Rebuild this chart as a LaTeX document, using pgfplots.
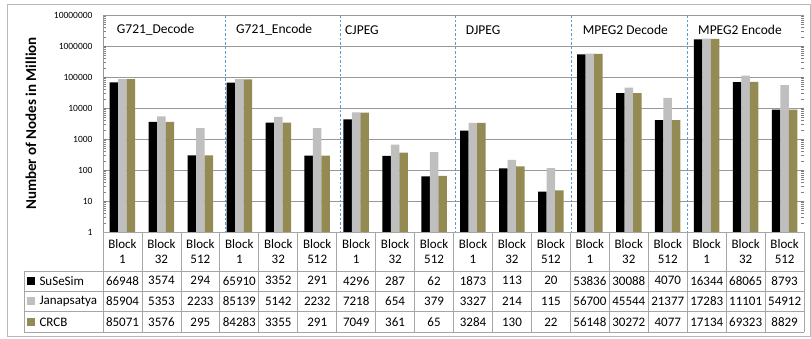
\documentclass[border=0pt]{standalone}
\usepackage{fontspec}
\setmainfont{Carlito}
\usepackage{pgfplots}
\usepackage{pgfplotstable}
\pgfplotsset{compat=1.18}
\definecolor{olv}{HTML}{948A54}
\definecolor{lgr}{HTML}{BFBFBF}
\definecolor{gridc}{HTML}{989898}
\definecolor{tabc}{HTML}{A6A6A6}
\definecolor{dashc}{HTML}{5B9BD5}
\pgfplotstableread{
x suse jana crcb
0.5 66948 85904 85071
1.5 3574 5353 3576
2.5 294 2233 295
3.5 65910 85139 84283
4.5 3352 5142 3355
5.5 291 2232 291
6.5 4296 7218 7049
7.5 287 654 361
8.5 62 379 65
9.5 1873 3327 3284
10.5 113 214 130
11.5 20 115 22
12.5 538360 567000 561480
13.5 30088 45544 30272
14.5 4070 21377 4077
15.5 1634400 1728300 1713400
16.5 68065 111010 69323
17.5 8793 54912 8829
}\datatable
\begin{document}
\begin{tikzpicture}
\path[use as bounding box] (0pt,0pt) rectangle (811pt,-338pt);
\draw[gray!55, line width=0.8pt] (7pt,-4pt) rectangle (810pt,-336pt);
\begin{axis}[
  at={(103pt,-232pt)}, anchor=south west,
  scale only axis, width=701pt, height=217pt,
  ymode=log, ymin=1, ymax=1e7, xmin=0, xmax=18,
  ybar=0pt, bar width=8.5pt,
  axis line style={draw=none},
  xtick=\empty,
  ytick={1,10,100,1000,10000,100000,1000000,10000000},
  yticklabels={1,10,100,1000,10000,100000,1000000,10000000},
  /pgf/number format/assume math mode=true,
  yticklabel style={font=\fontsize{9.5}{10}\selectfont, xshift=-7pt},
  major tick length=0pt,
  ymajorgrids, major grid style={draw=gridc, line width=0.8pt},
  clip=false,
]
\addplot[fill=black, draw=none] table[x=x, y=suse] {\datatable};
\addplot[fill=lgr, draw=none] table[x=x, y=jana] {\datatable};
\addplot[fill=olv, draw=none] table[x=x, y=crcb] {\datatable};
\end{axis}
\begin{scope}[x=1pt, y=-1pt]
% y label
\node[rotate=90, font=\bfseries\fontsize{15}{16}\selectfont] at (31,123.5) {Number of Nodes in Million};
% left axis line
\draw[gridc, line width=0.8pt] (103,15) -- (103,232);
% dashed separators
\foreach \xx in {225,340,455.7,571.3,687}
  \draw[dashc, line width=0.8pt, dash pattern=on 2.5pt off 2pt] (\xx,15) -- (\xx,232);
% benchmark titles
\foreach \xx/\t in {116.7/G721\_Decode, 236/G721\_Encode, 345/CJPEG, 465.7/DJPEG, 582.7/MPEG2 Decode, 698/MPEG2 Encode}
  \node[anchor=west, inner sep=0pt, font=\fontsize{13.5}{14}\selectfont] at (\xx,30) {\t};
% table lines
\draw[tabc, line width=0.8pt] (103,232) -- (804,232);
\foreach \yy in {271,291.5,311.5,332}
  \draw[tabc, line width=0.8pt] (24,\yy) -- (804,\yy);
\draw[tabc, line width=0.8pt] (24,271) -- (24,332);
\foreach \k in {0,...,18}
  \draw[tabc, line width=0.8pt] ({103+38.95*\k},232) -- ({103+38.95*\k},332);
% header
\foreach \b [count=\i from 0] in {1,32,512,1,32,512,1,32,512,1,32,512,1,32,512,1,32,512}{
  \node[font=\fontsize{13}{13}\selectfont] at ({103+38.95*(\i+0.5)},243.7) {Block};
  \node[font=\fontsize{13}{13}\selectfont] at ({103+38.95*(\i+0.5)},259.7) {\b};
}
% rows
\foreach \v [count=\i from 0] in {66948,3574,294,65910,3352,291,4296,287,62,1873,113,20,53836,30088,4070,16344,68065,8793}
  \node[font=\fontsize{13}{13}\selectfont] at ({103+38.95*(\i+0.5)},280.7) {\v};
\foreach \v [count=\i from 0] in {85904,5353,2233,85139,5142,2232,7218,654,379,3327,214,115,56700,45544,21377,17283,11101,54912}
  \node[font=\fontsize{13}{13}\selectfont] at ({103+38.95*(\i+0.5)},301.3) {\v};
\foreach \v [count=\i from 0] in {85071,3576,295,84283,3355,291,7049,361,65,3284,130,22,56148,30272,4077,17134,69323,8829}
  \node[font=\fontsize{13}{13}\selectfont] at ({103+38.95*(\i+0.5)},322) {\v};
% legend keys
\foreach \c/\t/\yy in {black/SuSeSim/280.7, lgr/Janapsatya/301.3, olv/CRCB/322}{
  \fill[\c] (27.3,\yy-4) rectangle (35,\yy+4);
  \node[anchor=west, inner sep=0pt, font=\fontsize{13}{13}\selectfont] at (39.3,\yy) {\t};
}
\end{scope}
\end{tikzpicture}
\end{document}
